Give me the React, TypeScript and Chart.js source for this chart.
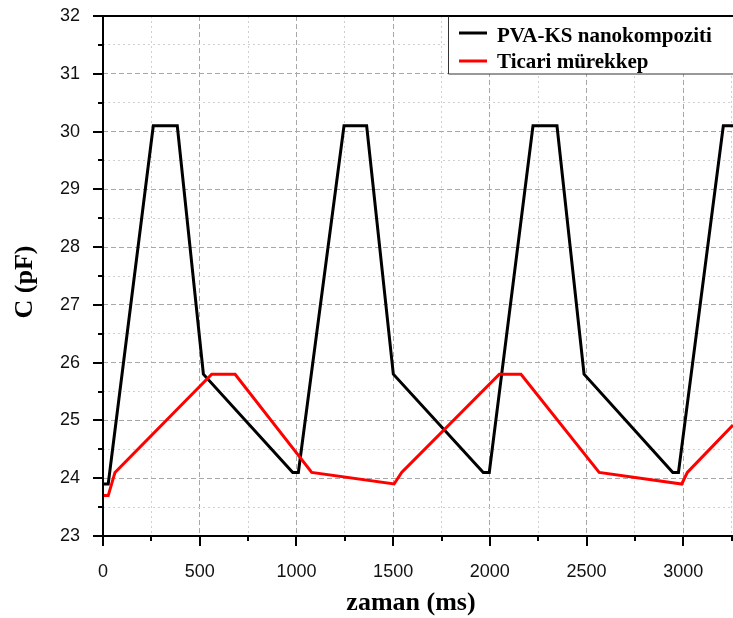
import React, { useEffect, useRef } from "react";
import { Chart, registerables } from "chart.js";

Chart.register(...registerables);

// ---- Data ----
const seriesLabels = ["PVA-KS nanokompoziti", "Ticari mürekkep"];

const pvaTime = [0, 27, 260, 384, 519, 981, 1010, 1246, 1363, 1501, 1966, 1997, 2223, 2347, 2487, 2946, 2975, 3207, 3257];
const pvaCap = [23.9, 23.9, 30.1, 30.1, 25.8, 24.1, 24.1, 30.1, 30.1, 25.8, 24.1, 24.1, 30.1, 30.1, 25.8, 24.1, 24.1, 30.1, 30.1];

const inkTime = [0, 27, 62, 562, 683, 1079, 1505, 1544, 2049, 2161, 2565, 2992, 3021, 3257];
const inkCap = [23.7, 23.7, 24.1, 25.8, 25.8, 24.1, 23.9, 24.1, 25.8, 25.8, 24.1, 23.9, 24.1, 24.92];

const xTickValues = [0, 250, 500, 750, 1000, 1250, 1500, 1750, 2000, 2250, 2500, 2750, 3000, 3250];
const yTickValues = [23, 23.5, 24, 24.5, 25, 25.5, 26, 26.5, 27, 27.5, 28, 28.5, 29, 29.5, 30, 30.5, 31, 31.5, 32];

const xTitle = "zaman (ms)";
const yTitle = "C (pF)";

const X_MIN = 0;
const X_MAX = 3257;
const Y_MIN = 23;
const Y_MAX = 32;

const isMajorX = (v: number) => Math.abs(v % 500) < 1e-6;
const isMajorY = (v: number) => Math.abs(v - Math.round(v)) < 1e-6;

const toPoints = (xs: number[], ys: number[]) => xs.map((x, i) => ({ x, y: ys[i] }));

const framePlugin = {
  id: "frameAndTicks",
  afterDraw(chart: any) {
    const { ctx, chartArea } = chart;
    const { left, right, top, bottom } = chartArea;
    const xs = chart.scales.x;
    const ys = chart.scales.y;
    ctx.save();
    ctx.strokeStyle = "#000";
    ctx.lineWidth = 2;
    ctx.lineCap = "butt";
    // tick marks
    ctx.beginPath();
    xTickValues.forEach((v) => {
      const px = Math.round(xs.getPixelForValue(v));
      const len = isMajorX(v) ? 10 : 5;
      ctx.moveTo(px, bottom);
      ctx.lineTo(px, bottom + len);
    });
    yTickValues.forEach((v) => {
      const py = Math.round(ys.getPixelForValue(v));
      const len = isMajorY(v) ? 10 : 5;
      ctx.moveTo(left, py);
      ctx.lineTo(left - len, py);
    });
    ctx.stroke();
    // frame lines (left, bottom, top)
    ctx.beginPath();
    ctx.moveTo(left, top);
    ctx.lineTo(left, bottom + 1);
    ctx.moveTo(left - 1, bottom);
    ctx.lineTo(right, bottom);
    ctx.moveTo(left - 1, top);
    ctx.lineTo(right, top);
    ctx.stroke();

    // axis titles
    ctx.fillStyle = "#000";
    ctx.font = "bold 26px 'Liberation Serif', 'Times New Roman', serif";
    ctx.textAlign = "center";
    ctx.textBaseline = "middle";
    ctx.fillText(xTitle, 411, 603);
    ctx.save();
    ctx.translate(25, 282);
    ctx.rotate(-Math.PI / 2);
    ctx.fillText(yTitle, 0, 0);
    ctx.restore();

    // legend
    const bx = 448.5;
    const by = top;
    const bh = 58;
    ctx.fillStyle = "#fff";
    ctx.fillRect(bx, by + 1, chart.width - bx, bh - 1);
    ctx.strokeStyle = "#333";
    ctx.lineWidth = 1;
    ctx.beginPath();
    ctx.moveTo(bx, by);
    ctx.lineTo(bx, by + bh);
    ctx.lineTo(chart.width, by + bh);
    ctx.stroke();
    ctx.strokeStyle = "#000";
    ctx.lineWidth = 2;
    ctx.beginPath();
    ctx.moveTo(bx, by);
    ctx.lineTo(chart.width, by);
    ctx.stroke();
    const rows = [33, 61];
    const textRows = [36.5, 63];
    chart.data.datasets.forEach((ds: any, i: number) => {
      ctx.strokeStyle = ds.borderColor;
      ctx.lineWidth = 3;
      ctx.beginPath();
      ctx.moveTo(459, rows[i]);
      ctx.lineTo(487, rows[i]);
      ctx.stroke();
      ctx.fillStyle = "#000";
      ctx.font = "bold 21px 'Liberation Serif', 'Times New Roman', serif";
      ctx.textAlign = "left";
      ctx.textBaseline = "middle";
      ctx.fillText(ds.label, 497, textRows[i]);
    });
    ctx.restore();
  },
};

export default function App() {
  const canvasRef = useRef<HTMLCanvasElement | null>(null);

  useEffect(() => {
    if (!canvasRef.current) return;
    const tickFont = { family: "'Liberation Sans', Arial, sans-serif", size: 18 };
    const chart = new Chart(canvasRef.current, {
      type: "line",
      data: {
        datasets: [
          {
            label: seriesLabels[0],
            data: toPoints(pvaTime, pvaCap),
            borderColor: "#000000",
            borderWidth: 3,
            pointRadius: 0,
            tension: 0,
            fill: false,
            order: 1,
          },
          {
            label: seriesLabels[1],
            data: toPoints(inkTime, inkCap),
            borderColor: "#ff0000",
            borderWidth: 3,
            pointRadius: 0,
            tension: 0,
            fill: false,
            order: 0,
          },
        ],
      },
      options: {
        animation: false,
        responsive: true,
        maintainAspectRatio: false,
        layout: { padding: { left: 0, right: 0, top: 16, bottom: 0 } },
        plugins: {
          legend: { display: false },
          tooltip: { enabled: false },
          title: { display: false },
        },
        scales: {
          x: {
            type: "linear",
            min: X_MIN,
            max: X_MAX,
            afterBuildTicks: (scale: any) => {
              scale.ticks = xTickValues.map((v) => ({ value: v }));
            },
            afterFit: (scale: any) => {
              scale.height = 82;
              scale.paddingLeft = 0;
              scale.paddingRight = 0;
            },
            ticks: {
              autoSkip: false,
              maxRotation: 0,
              padding: 25,
              color: "#111",
              font: tickFont,
              callback: (v: any) => (isMajorX(Number(v)) ? String(v) : ""),
            },
            grid: {
              drawTicks: false,
              lineWidth: 1,
              color: (ctx: any) => (isMajorX(ctx.tick.value) ? "#a8a8a8" : "#d0d0d0"),
            },
            border: {
              display: false,
              dash: (ctx: any) => (isMajorX(ctx.tick.value) ? [5, 3] : [2, 3]),
            },
          },
          y: {
            type: "linear",
            min: Y_MIN,
            max: Y_MAX,
            afterBuildTicks: (scale: any) => {
              scale.ticks = yTickValues.map((v) => ({ value: v }));
            },
            afterFit: (scale: any) => {
              scale.width = 103;
              scale.paddingTop = 0;
              scale.paddingBottom = 0;
            },
            ticks: {
              autoSkip: false,
              padding: 23,
              color: "#111",
              font: tickFont,
              callback: (v: any) => (isMajorY(Number(v)) ? String(v) : ""),
            },
            grid: {
              drawTicks: false,
              lineWidth: 1,
              color: (ctx: any) => (isMajorY(ctx.tick.value) ? "#a8a8a8" : "#d0d0d0"),
            },
            border: {
              display: false,
              dash: (ctx: any) => (isMajorY(ctx.tick.value) ? [5, 3] : [2, 3]),
            },
          },
        },
      },
      plugins: [framePlugin],
    });
    return () => chart.destroy();
  }, []);

  return (
    <div style={{ position: "absolute", left: 0, top: 0, width: 733, height: 618, background: "#fff" }}>
      <canvas ref={canvasRef} />
    </div>
  );
}
